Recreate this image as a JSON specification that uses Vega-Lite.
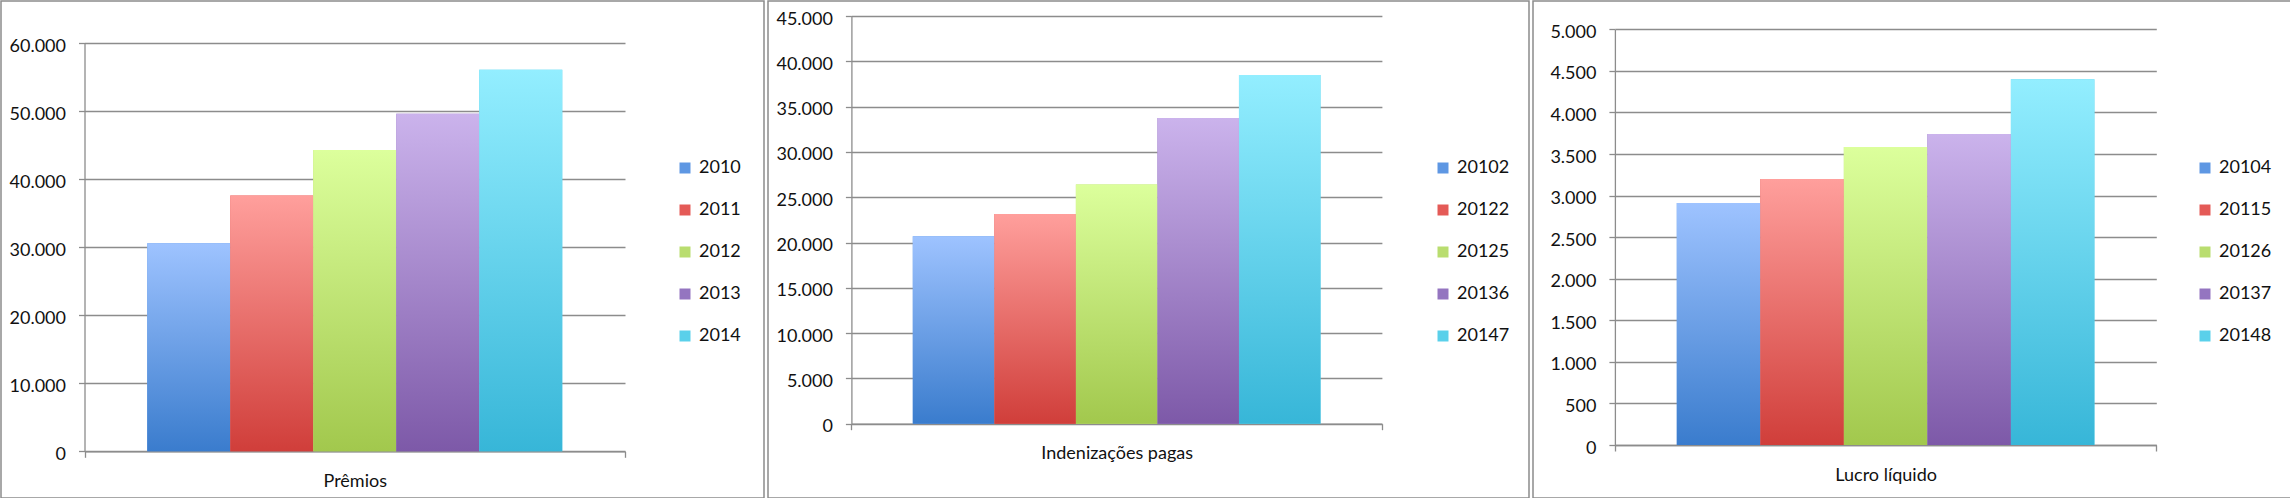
{
  "$schema": "https://vega.github.io/schema/vega-lite/v6.json",
  "padding": 0,
  "background": "white",
  "spacing": 2,
  "data": {
    "values": [
      {"painel": "Prêmios", "serie": "2010", "i": 0, "valor": 30600},
      {"painel": "Prêmios", "serie": "2011", "i": 1, "valor": 37600},
      {"painel": "Prêmios", "serie": "2012", "i": 2, "valor": 44300},
      {"painel": "Prêmios", "serie": "2013", "i": 3, "valor": 49650},
      {"painel": "Prêmios", "serie": "2014", "i": 4, "valor": 56100},
      {"painel": "Indenizações pagas", "serie": "20102", "i": 0, "valor": 20700},
      {"painel": "Indenizações pagas", "serie": "20122", "i": 1, "valor": 23150},
      {"painel": "Indenizações pagas", "serie": "20125", "i": 2, "valor": 26400},
      {"painel": "Indenizações pagas", "serie": "20136", "i": 3, "valor": 33750},
      {"painel": "Indenizações pagas", "serie": "20147", "i": 4, "valor": 38500},
      {"painel": "Lucro líquido", "serie": "20104", "i": 0, "valor": 2910},
      {"painel": "Lucro líquido", "serie": "20115", "i": 1, "valor": 3200},
      {"painel": "Lucro líquido", "serie": "20126", "i": 2, "valor": 3585},
      {"painel": "Lucro líquido", "serie": "20137", "i": 3, "valor": 3740},
      {"painel": "Lucro líquido", "serie": "20148", "i": 4, "valor": 4400}
    ]
  },
  "resolve": {
    "scale": {"color": "independent", "xOffset": "independent", "x": "independent", "y": "independent"},
    "legend": {"color": "independent"}
  },
  "hconcat": [
    {
      "width": 763,
      "height": 497,
      "transform": [{"filter": "datum.painel == 'Prêmios'"}],
      "encoding": {
        "x": {"field": "painel", "type": "nominal",
          "scale": {"range": [83.5, 624], "paddingOuter": 0, "paddingInner": 0},
          "axis": {"offset": -46.7, "title": null, "labelAngle": 0, "tickBand": "extent", "grid": false}},
        "xOffset": {"field": "serie", "type": "nominal", "scale": {"paddingInner": 0, "paddingOuter": 0.756}},
        "y": {"field": "valor", "type": "quantitative",
          "scale": {"domain": [0, 60000], "range": [450.3, 42.3], "nice": false, "zero": true},
          "axis": {"offset": -83.5, "title": null, "values": [0, 10000, 20000, 30000, 40000, 50000, 60000],
            "labelExpr": "replace(format(datum.value, ','), ',', '.')"}}
      },
      "layer": [
        {"mark": {"type": "bar"},
          "encoding": {"color": {"field": "serie", "type": "nominal",
            "scale": {"domain": ["2010", "2011", "2012", "2013", "2014"], "range": ["#5E97E3", "#E45A57", "#B9DD6F", "#9475C0", "#5AD0EA"]},
            "legend": {"orient": "none", "legendX": 675, "legendY": 158}}}},
        {"mark": {"type": "bar"},
          "encoding": {"fill": {
            "condition": [
              {"test": "datum.i === 0", "value": {"gradient": "linear", "x1": 0, "y1": 0, "x2": 0, "y2": 1, "stops": [{"offset": 0, "color": "#9EC3FF"}, {"offset": 1, "color": "#3A7CCD"}]}},
              {"test": "datum.i === 1", "value": {"gradient": "linear", "x1": 0, "y1": 0, "x2": 0, "y2": 1, "stops": [{"offset": 0, "color": "#FF9F9C"}, {"offset": 1, "color": "#D03E3A"}]}},
              {"test": "datum.i === 2", "value": {"gradient": "linear", "x1": 0, "y1": 0, "x2": 0, "y2": 1, "stops": [{"offset": 0, "color": "#DCFF9C"}, {"offset": 1, "color": "#A2C84D"}]}},
              {"test": "datum.i === 3", "value": {"gradient": "linear", "x1": 0, "y1": 0, "x2": 0, "y2": 1, "stops": [{"offset": 0, "color": "#CBB3EC"}, {"offset": 1, "color": "#7D59A8"}]}}
            ],
            "value": {"gradient": "linear", "x1": 0, "y1": 0, "x2": 0, "y2": 1, "stops": [{"offset": 0, "color": "#93EEFF"}, {"offset": 1, "color": "#37B6D8"}]}}}}
      ]
    },
    {
      "width": 761,
      "height": 497,
      "transform": [{"filter": "datum.painel == 'Indenizações pagas'"}],
      "encoding": {
        "x": {"field": "painel", "type": "nominal",
          "scale": {"range": [83.4, 613.9], "paddingOuter": 0, "paddingInner": 0},
          "axis": {"offset": -74.3, "title": null, "labelAngle": 0, "tickBand": "extent", "grid": false}},
        "xOffset": {"field": "serie", "type": "nominal", "scale": {"paddingInner": 0, "paddingOuter": 0.753}},
        "y": {"field": "valor", "type": "quantitative",
          "scale": {"domain": [0, 45000], "range": [422.7, 15], "nice": false, "zero": true},
          "axis": {"offset": -83.4, "title": null, "values": [0, 5000, 10000, 15000, 20000, 25000, 30000, 35000, 40000, 45000],
            "labelExpr": "replace(format(datum.value, ','), ',', '.')"}}
      },
      "layer": [
        {"mark": {"type": "bar"},
          "encoding": {"color": {"field": "serie", "type": "nominal",
            "scale": {"domain": ["20102", "20122", "20125", "20136", "20147"], "range": ["#5E97E3", "#E45A57", "#B9DD6F", "#9475C0", "#5AD0EA"]},
            "legend": {"orient": "none", "legendX": 666, "legendY": 158}}}},
        {"mark": {"type": "bar"},
          "encoding": {"fill": {
            "condition": [
              {"test": "datum.i === 0", "value": {"gradient": "linear", "x1": 0, "y1": 0, "x2": 0, "y2": 1, "stops": [{"offset": 0, "color": "#9EC3FF"}, {"offset": 1, "color": "#3A7CCD"}]}},
              {"test": "datum.i === 1", "value": {"gradient": "linear", "x1": 0, "y1": 0, "x2": 0, "y2": 1, "stops": [{"offset": 0, "color": "#FF9F9C"}, {"offset": 1, "color": "#D03E3A"}]}},
              {"test": "datum.i === 2", "value": {"gradient": "linear", "x1": 0, "y1": 0, "x2": 0, "y2": 1, "stops": [{"offset": 0, "color": "#DCFF9C"}, {"offset": 1, "color": "#A2C84D"}]}},
              {"test": "datum.i === 3", "value": {"gradient": "linear", "x1": 0, "y1": 0, "x2": 0, "y2": 1, "stops": [{"offset": 0, "color": "#CBB3EC"}, {"offset": 1, "color": "#7D59A8"}]}}
            ],
            "value": {"gradient": "linear", "x1": 0, "y1": 0, "x2": 0, "y2": 1, "stops": [{"offset": 0, "color": "#93EEFF"}, {"offset": 1, "color": "#37B6D8"}]}}}}
      ]
    },
    {
      "width": 761,
      "height": 497,
      "transform": [{"filter": "datum.painel == 'Lucro líquido'"}],
      "encoding": {
        "x": {"field": "painel", "type": "nominal",
          "scale": {"range": [81.9, 623.3], "paddingOuter": 0, "paddingInner": 0},
          "axis": {"offset": -53, "title": null, "labelAngle": 0, "tickBand": "extent", "grid": false}},
        "xOffset": {"field": "serie", "type": "nominal", "scale": {"paddingInner": 0, "paddingOuter": 0.741}},
        "y": {"field": "valor", "type": "quantitative",
          "scale": {"domain": [0, 5000], "range": [444, 28.3], "nice": false, "zero": true},
          "axis": {"offset": -81.9, "title": null, "values": [0, 500, 1000, 1500, 2000, 2500, 3000, 3500, 4000, 4500, 5000],
            "labelExpr": "replace(format(datum.value, ','), ',', '.')"}}
      },
      "layer": [
        {"mark": {"type": "bar"},
          "encoding": {"color": {"field": "serie", "type": "nominal",
            "scale": {"domain": ["20104", "20115", "20126", "20137", "20148"], "range": ["#5E97E3", "#E45A57", "#B9DD6F", "#9475C0", "#5AD0EA"]},
            "legend": {"orient": "none", "legendX": 663, "legendY": 158}}}},
        {"mark": {"type": "bar"},
          "encoding": {"fill": {
            "condition": [
              {"test": "datum.i === 0", "value": {"gradient": "linear", "x1": 0, "y1": 0, "x2": 0, "y2": 1, "stops": [{"offset": 0, "color": "#9EC3FF"}, {"offset": 1, "color": "#3A7CCD"}]}},
              {"test": "datum.i === 1", "value": {"gradient": "linear", "x1": 0, "y1": 0, "x2": 0, "y2": 1, "stops": [{"offset": 0, "color": "#FF9F9C"}, {"offset": 1, "color": "#D03E3A"}]}},
              {"test": "datum.i === 2", "value": {"gradient": "linear", "x1": 0, "y1": 0, "x2": 0, "y2": 1, "stops": [{"offset": 0, "color": "#DCFF9C"}, {"offset": 1, "color": "#A2C84D"}]}},
              {"test": "datum.i === 3", "value": {"gradient": "linear", "x1": 0, "y1": 0, "x2": 0, "y2": 1, "stops": [{"offset": 0, "color": "#CBB3EC"}, {"offset": 1, "color": "#7D59A8"}]}}
            ],
            "value": {"gradient": "linear", "x1": 0, "y1": 0, "x2": 0, "y2": 1, "stops": [{"offset": 0, "color": "#93EEFF"}, {"offset": 1, "color": "#37B6D8"}]}}}}
      ]
    }
  ],
  "config": {
    "font": "Lato",
    "view": {"stroke": "#8c8c8c", "strokeWidth": 1.5},
    "bar": {"stroke": null},
    "axis": {
      "labelFont": "Lato", "labelFontSize": 18, "labelColor": "#111111",
      "domainColor": "#8c8c8c", "domainWidth": 1.3,
      "tickColor": "#8c8c8c", "tickWidth": 1.3, "tickSize": 6,
      "gridColor": "#8c8c8c", "gridWidth": 1.3, "gridOpacity": 1
    },
    "axisY": {"labelPadding": 13, "labelOffset": 3, "grid": true},
    "axisX": {"labelPadding": 15},
    "legend": {
      "title": null, "symbolType": "square", "symbolSize": 121, "symbolStrokeWidth": 0,
      "labelFont": "Lato", "labelFontSize": 18, "labelColor": "#111111", "labelOffset": 5,
      "rowPadding": 24, "padding": 0
    }
  }
}
